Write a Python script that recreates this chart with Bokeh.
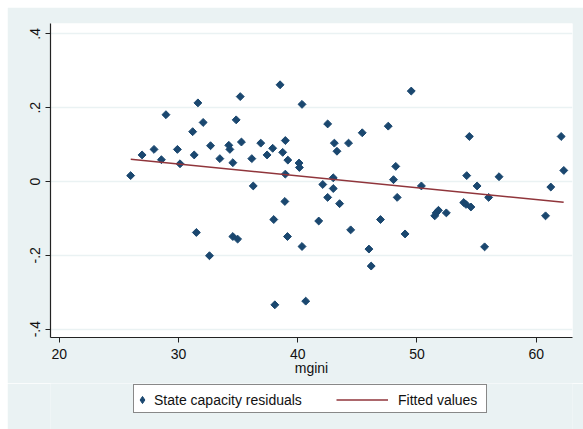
import numpy as np
from bokeh.plotting import figure
from bokeh.layouts import column
from bokeh.models import Legend, LegendItem, FixedTicker
from bokeh.embed import file_html
from bokeh.resources import INLINE

# ---- data ----
mgini = [25.99, 26.95, 27.95, 28.57, 28.95, 29.91, 30.13, 31.19, 31.32, 31.63,
         31.50, 32.07, 32.60, 32.69, 33.47, 34.22, 34.31, 34.56, 34.56, 34.96,
         34.84, 35.18, 35.28, 36.15, 36.27, 36.90, 37.43, 37.90, 37.99, 38.08,
         38.52, 38.74, 38.96, 38.96, 38.92, 39.14, 39.17, 40.11, 40.14, 40.36,
         40.36, 40.67, 41.76, 42.10, 42.51, 42.51, 42.98, 42.98, 43.07, 43.29,
         43.51, 44.26, 44.44, 45.41, 45.97, 46.16, 46.94, 47.59, 48.03, 48.22,
         48.34, 49.00, 49.52, 50.37, 51.49, 51.61, 51.80, 52.46, 53.92, 54.17,
         54.11, 54.39, 54.52, 55.04, 55.67, 56.01, 56.88, 60.78, 61.22, 62.09,
         62.31]
residuals = [0.016, 0.072, 0.087, 0.059, 0.181, 0.087, 0.048, 0.135, 0.072, 0.213,
             -0.138, 0.160, -0.201, 0.097, 0.062, 0.098, 0.087, 0.051, -0.149, -0.156,
             0.167, 0.230, 0.107, 0.062, -0.012, 0.104, 0.072, 0.090, -0.103, -0.334,
             0.262, 0.079, 0.111, 0.020, -0.054, -0.149, 0.058, 0.050, 0.038, 0.209,
             -0.176, -0.324, -0.107, -0.008, 0.156, -0.043, 0.010, -0.019, 0.104, 0.082,
             -0.060, 0.104, -0.131, 0.132, -0.183, -0.229, -0.103, 0.150, 0.005, 0.041,
             -0.043, -0.142, 0.245, -0.012, -0.093, -0.085, -0.078, -0.085, -0.057, 0.016,
             -0.062, 0.122, -0.069, -0.012, -0.177, -0.043, 0.013, -0.093, -0.015, 0.122,
             0.030]
fit_x = [26.0, 62.3]
fit_y = [0.060, -0.056]

x_ticks = [20, 30, 40, 50, 60]
y_ticks = [-0.4, -0.2, 0.0, 0.2, 0.4]
y_tick_labels = ["-.4", "-.2", "0", ".2", ".4"]
series_labels = ["State capacity residuals", "Fitted values"]

BG = "#EAF2F3"
NAVY = "#1a476f"
MAROON = "#90353b"
FONT = "Liberation Sans"
INK = "#111111"

MARKER = dict(marker="square", angle=np.pi / 4, size=5.6, fill_color=NAVY, line_color=NAVY)
LINE = dict(line_color=MAROON, line_width=1.5)

# ---- main plot ----
p = figure(width=576, height=376, output_backend="svg", toolbar_location=None,
           x_range=(19.27, 63.04), y_range=(-0.4225, 0.428),
           min_border_left=43, min_border_top=16, min_border_right=11, min_border_bottom=46)
p.border_fill_color = BG
p.background_fill_color = "white"
p.outline_line_color = None

p.scatter(mgini, residuals, **MARKER)
p.line(fit_x, fit_y, **LINE)

for ax in (p.xaxis[0], p.yaxis[0]):
    ax.axis_line_color = "#222222"
    ax.axis_line_width = 1.2
    ax.major_tick_line_color = "#222222"
    ax.major_tick_out = 5
    ax.major_tick_in = 0
    ax.minor_tick_line_color = None
    ax.major_label_text_font = FONT
    ax.major_label_text_font_size = "14px"
    ax.major_label_text_color = INK
    ax.axis_label_text_font = FONT
    ax.axis_label_text_font_size = "14px"
    ax.axis_label_text_font_style = "normal"
    ax.axis_label_text_color = INK

p.xaxis.ticker = FixedTicker(ticks=x_ticks)
p.xaxis.axis_label = "mgini"
p.xaxis.major_label_standoff = 6
p.xaxis.axis_label_standoff = -2

p.yaxis.ticker = FixedTicker(ticks=y_ticks)
p.yaxis.major_label_overrides = {t: l for t, l in zip(y_ticks, y_tick_labels)}
p.yaxis.major_label_orientation = "vertical"
p.yaxis.major_label_standoff = 5

p.xgrid.grid_line_color = None
p.ygrid.grid_line_color = BG
p.ygrid.grid_line_width = 1.5

# ---- legend strip (its frame is aligned with the main frame by the column) ----
lf = figure(width=576, height=46, output_backend="svg", toolbar_location=None,
            x_range=(0, 1), y_range=(0, 1), x_axis_type=None, y_axis_type=None,
            min_border=0)
lf.border_fill_color = BG
lf.background_fill_color = BG
lf.outline_line_color = None
lf.grid.grid_line_color = None

# legend-only renderers: same data, lying outside this strip's 0..1 ranges
r_pts = lf.scatter(mgini, residuals, marker="diamond", fill_color=NAVY, line_color=NAVY)
r_fit = lf.line(fit_x, fit_y, **LINE)
r_none = lf.line(fit_x, fit_y, line_alpha=0)

box = Legend(items=[LegendItem(label=" ", renderers=[r_none])], location=(83, 16),
             padding=0, margin=0, spacing=0,
             glyph_width=352, glyph_height=27, label_height=27, label_width=0,
             label_standoff=0, label_text_font_size="1px",
             border_line_color=INK, border_line_width=1.2,
             background_fill_color="white", background_fill_alpha=1)
leg1 = Legend(items=[LegendItem(label=series_labels[0], renderers=[r_pts])],
              location=(83, 16), padding=0, margin=0,
              glyph_width=18, glyph_height=27, label_height=27, label_standoff=3,
              label_text_font=FONT, label_text_font_size="14px", label_text_color=INK,
              border_line_color=None, background_fill_alpha=0)
leg2 = Legend(items=[LegendItem(label=series_labels[1], renderers=[r_fit])],
              location=(286, 16), padding=0, margin=0,
              glyph_width=52, glyph_height=27, label_height=27, label_standoff=10,
              label_text_font=FONT, label_text_font_size="14px", label_text_color=INK,
              border_line_color=None, background_fill_alpha=0)
lf.add_layout(box, "center")
lf.add_layout(leg1, "center")
lf.add_layout(leg2, "center")

layout = column(p, lf, spacing=0, margin=(7, 0, 0, 7))

open("out.html", "w").write(file_html(layout, INLINE))
